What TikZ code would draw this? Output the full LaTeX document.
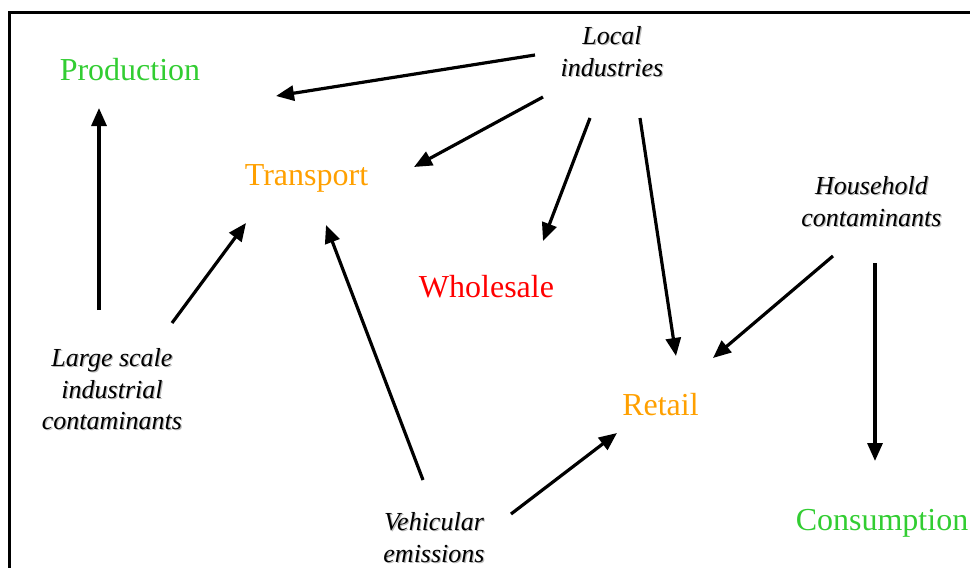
\documentclass[tikz,border=0pt]{standalone}
\usepackage{fontspec}
\setmainfont{Liberation Serif}
\usetikzlibrary{arrows.meta,calc}
\definecolor{cgreen}{RGB}{50,205,50}
\definecolor{corange}{RGB}{255,160,0}
\definecolor{cred}{RGB}{255,0,0}
\newcommand\shd[1]{\rlap{\hspace{1.2pt}\raisebox{-1.2pt}{\color{black!28}#1}}#1}
\tikzset{
  stage/.style={inner sep=0pt, anchor=base, font=\fontsize{32}{38}\selectfont},
  source/.style={inner sep=0pt, anchor=center, align=center, font=\fontsize{26}{31.5}\selectfont\itshape},
  arr/.style={line width=3.2pt, -{Triangle[length=18pt,width=15pt]}},
  frame/.style={line width=2.5pt}
}
\begin{document}
\begin{tikzpicture}[x=1pt,y=-1pt]
\useasboundingbox (0,0) rectangle (970,568);
\draw[frame] (9.5,570) -- (9.5,12.5) -- (972,12.5);
% stages
\node[stage, text=cgreen] (pr) at (130,80) {Production};
\node[stage, text=corange] (tr) at (306.5,185) {Transport};
\node[stage, text=cred] (wh) at (486.5,297) {Wholesale};
\node[stage, text=corange] (re) at (660.5,415) {Retail};
\node[stage, text=cgreen] (co) at (882,530) {Consumption};
% sources
\node[source] (li) at (612,52) {\shd{Local}\\\shd{industries}};
\node[source] (hh) at (871.5,202) {\shd{Household}\\\shd{contaminants}};
\node[source] (lg) at (112,390) {\shd{Large scale}\\\shd{industrial}\\\shd{contaminants}};
\node[source] (ve) at (434,538) {\shd{Vehicular}\\\shd{emissions}};
% connectors
\draw[arr] ($(li)+(-77,3)$) -- ($(pr.base)+(146,16)$);
\draw[arr] ($(li)+(-69,45)$) -- ($(tr.base)+(107.5,-18)$);
\draw[arr] ($(li)+(-22,66)$) -- ($(wh.base)+(56.5,-56)$);
\draw[arr] ($(li)+(28,66)$) -- ($(re.base)+(15.5,-59)$);
\draw[arr] ($(hh)+(-38.5,54)$) -- ($(re.base)+(52.5,-57)$);
\draw[arr] ($(hh)+(3.5,61)$) -- ($(co.base)+(-7,-69)$);
\draw[arr] ($(lg)+(-13,-80)$) -- ($(pr.base)+(-31,28)$);
\draw[arr] ($(lg)+(60,-67)$) -- ($(tr.base)+(-60.5,38)$);
\draw[arr] ($(ve)+(-11,-58)$) -- ($(tr.base)+(19.5,40)$);
\draw[arr] ($(ve)+(77,-24)$) -- ($(re.base)+(-43.5,18)$);
\end{tikzpicture}
\end{document}
